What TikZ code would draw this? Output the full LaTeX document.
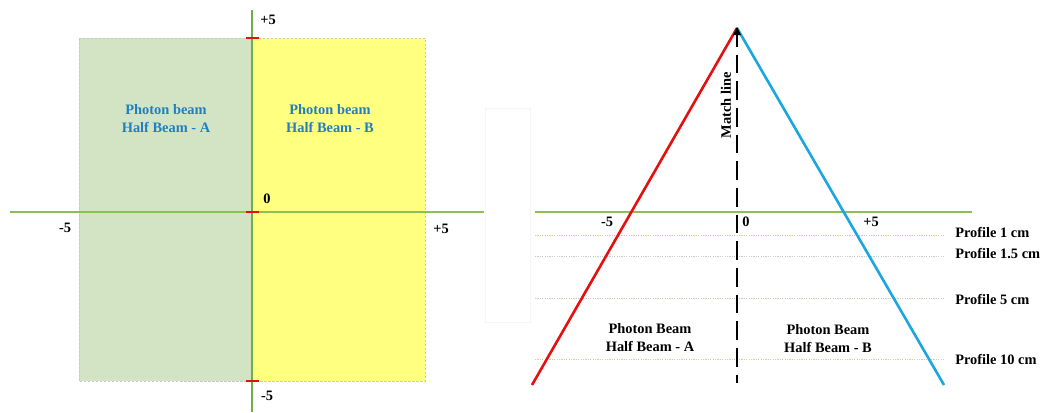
\documentclass[tikz,border=0pt]{standalone}
\usepackage{fontspec}
\setmainfont{Liberation Serif}
\definecolor{axisgreen}{HTML}{8CC152}
\definecolor{vgreen}{HTML}{70AD47}
\definecolor{sage}{HTML}{D3E4C5}
\definecolor{lyellow}{HTML}{FFFF80}
\definecolor{bluetxt}{HTML}{1F7FC0}
\definecolor{redline}{HTML}{E41010}
\definecolor{blueline}{HTML}{1AA6DF}
\definecolor{tan}{HTML}{E8C890}
\definecolor{lgray}{HTML}{C8C8C8}
\tikzset{
  lbl/.style={font=\bfseries\fontsize{10.8}{13.5}\selectfont, inner sep=0pt},
  twoline/.style={lbl, align=center},
  axis/.style={axisgreen, line width=1.65pt},
  tick/.style={redline, line width=1.35pt},
  profile/.style={line width=0.525pt, dash pattern=on 0.9pt off 0.9pt}
}
\begin{document}
\begin{tikzpicture}[x=0.75pt,y=-0.75pt]
\useasboundingbox (0,0) rectangle (1041,412);
% ---------- left panel ----------
\fill[sage] (79,38) rectangle (252,381);
\fill[lyellow] (252,38) rectangle (425,381);
\draw[lgray, line width=0.525pt, dash pattern=on 1.875pt off 1.125pt] (79,38) rectangle (425,381);
\coordinate (hL) at (10,212);
\coordinate (hR) at (484,212);
\coordinate (vT) at (252,10);
\coordinate (vB) at (252,412);
\draw[axis] (hL) -- (hR);
\draw[axis, vgreen] (vT) -- (vB);
\coordinate (t1a) at (246,38); \coordinate (t1b) at (259,38);
\coordinate (t2a) at (246,212); \coordinate (t2b) at (259,212);
\coordinate (t3a) at (246,381); \coordinate (t3b) at (259,381);
\draw[tick] (t1a) -- (t1b);
\draw[tick] (t2a) -- (t2b);
\draw[tick] (t3a) -- (t3b);
\node[lbl] (lp5top) at (268,20) {+5};
\node[lbl] (lzero) at (267,199) {0};
\node[lbl] (lm5left) at (65,228) {-5};
\node[lbl] (lp5right) at (441,229) {+5};
\node[lbl] (lm5bot) at (267,396) {-5};
\node[twoline, text=bluetxt] (halfA) at (166,119) {Photon beam\\Half Beam - A};
\node[twoline, text=bluetxt] (halfB) at (330,119) {Photon beam\\Half Beam - B};
% faint frame between panels
\draw[black!4, line width=0.45pt] (485,108) rectangle (530,322);
% ---------- right panel ----------
\coordinate (gL) at (535,212);
\coordinate (gR) at (972,212);
\draw[axis] (gL) -- (gR);
\coordinate (p1a) at (535,235); \coordinate (p1b) at (945,235);
\coordinate (p2a) at (535,256); \coordinate (p2b) at (945,256);
\coordinate (p3a) at (535,298); \coordinate (p3b) at (945,298);
\coordinate (p4a) at (535,359); \coordinate (p4b) at (945,359);
\draw[profile, tan] (p1a) -- (p1b);
\draw[profile, lgray] (p2a) -- (p2b);
\draw[profile, lgray!80!tan] (p3a) -- (p3b);
\draw[profile, tan] (p4a) -- (p4b);
\coordinate (peak) at (737,28);
\coordinate (redend) at (532,385);
\coordinate (blueend) at (944,385);
\coordinate (matchend) at (737,383);
\draw[redline, line width=1.95pt] (peak) -- (redend);
\draw[blueline, line width=1.95pt] (peak) -- (blueend);
\draw[black, line width=2pt, dash pattern=on 14pt off 6pt] (peak) -- (matchend);
\fill[black] (737,27) -- (733,35) -- (741,35) -- cycle;
\node[lbl, rotate=90] (match) at (726,105) {Match line};
\node[lbl] (rm5) at (607,222) {-5};
\node[lbl] (rzero) at (746,222) {0};
\node[lbl] (rp5) at (871,222) {+5};
\node[lbl, anchor=west] (prof1) at (955,232) {Profile 1 cm};
\node[lbl, anchor=west] (prof15) at (955,254) {Profile 1.5 cm};
\node[lbl, anchor=west] (prof5) at (955,299) {Profile 5 cm};
\node[lbl, anchor=west] (prof10) at (955,359) {Profile 10 cm};
\node[twoline] (rhalfA) at (650,338) {Photon Beam\\Half Beam - A};
\node[twoline] (rhalfB) at (828,339) {Photon Beam\\Half Beam - B};
\end{tikzpicture}
\end{document}
